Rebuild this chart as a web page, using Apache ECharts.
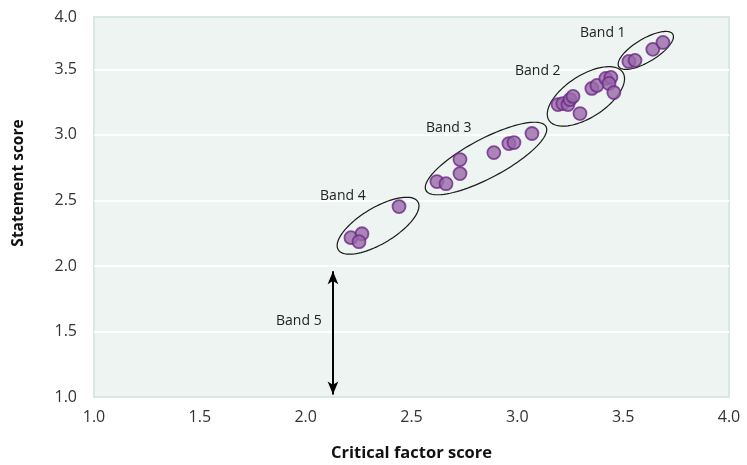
<!DOCTYPE html>
<html><head><meta charset="utf-8">
<script src="https://cdn.jsdelivr.net/npm/echarts@6/dist/echarts.min.js"></script>
<style>html,body{margin:0;padding:0;background:#fff}#c{width:747px;height:465px}</style>
</head><body><div id="c"></div>
<script>
// ---- data ----
const band1X = [3.527, 3.556, 3.640, 3.688];
const band1Y = [3.561, 3.569, 3.653, 3.706];
const band2X = [3.192, 3.215, 3.239, 3.249, 3.263, 3.296, 3.352, 3.376, 3.418, 3.442, 3.433, 3.456];
const band2Y = [3.232, 3.239, 3.232, 3.270, 3.294, 3.163, 3.355, 3.378, 3.431, 3.439, 3.393, 3.324];
const band3X = [2.620, 2.663, 2.729, 2.729, 2.889, 2.960, 2.984, 3.069];
const band3Y = [2.644, 2.628, 2.812, 2.705, 2.865, 2.934, 2.942, 3.011];
const band4X = [2.214, 2.266, 2.252, 2.441];
const band4Y = [2.216, 2.246, 2.185, 2.453];
const bandNames = ['Band 1', 'Band 2', 'Band 3', 'Band 4', 'Band 5'];
const ellipseCX = [3.607, 3.324, 2.852, 2.342];
const ellipseCY = [3.645, 3.294, 2.820, 2.307];
const labelX = [3.296, 2.989, 2.568, 2.068, 1.860];
const labelY = [3.775, 3.485, 3.049, 2.537, 1.581];
const band5X = 2.129, band5Top = 1.96, band5Bottom = 1.02;
const xName = 'Critical factor score';
const yName = 'Statement score';
const yTopLabel = '4.0';

// ---- styles ----
const ellipseShapes = [
  {a: 31.5, b: 11.5, rot: 31},
  {a: 44, b: 21, rot: 33},
  {a: 68, b: 19.5, rot: 28},
  {a: 46.5, b: 18, rot: 31}
];
const FONT = 'Open Sans';

function zip(xs, ys) { return xs.map((x, i) => [x, ys[i]]); }
const pointStyle = {color: '#9a69aa', borderColor: '#6b2b84', borderWidth: 1.8};
function bandSeries(name, xs, ys) {
  return {name, type: 'scatter', data: zip(xs, ys), symbolSize: 13, itemStyle: pointStyle, z: 3};
}

const chart = echarts.init(document.getElementById('c'), null, {renderer: 'canvas'});
chart.setOption({
  animation: false,
  grid: {left: 94, right: 18, top: 17, bottom: 68, show: true, outerBoundsMode: 'none',
         containLabel: false,
         backgroundColor: '#edf4f1', borderColor: '#d8e8e2', borderWidth: 2},
  xAxis: {
    type: 'value', min: 1, max: 4, interval: 0.5,
    axisLine: {show: false}, axisTick: {show: false}, splitLine: {show: false},
    axisLabel: {color: '#333', fontSize: 16, fontFamily: FONT, margin: 12,
                formatter: v => v.toFixed(1)},
    name: xName, nameLocation: 'middle', nameGap: 48,
    nameTextStyle: {fontWeight: 'bold', fontSize: 16.5, color: '#111', fontFamily: FONT}
  },
  yAxis: {
    type: 'value', min: 1, max: 3.9, interval: 0.5,
    axisLine: {show: false}, axisTick: {show: false},
    splitLine: {show: true, showMinLine: false, showMaxLine: false,
                lineStyle: {color: '#ffffff', width: 2}},
    axisLabel: {color: '#333', fontSize: 16, fontFamily: FONT, margin: 17,
                showMaxLabel: true,
                formatter: v => (v > 3.85 ? yTopLabel : v.toFixed(1))},
    name: yName, nameLocation: 'middle', nameGap: 67,
    nameTextStyle: {fontWeight: 'bold', fontSize: 15.5, color: '#111', fontFamily: FONT,
                    padding: [0, 0, 0, 48]}
  },
  series: [
    {
      type: 'custom', name: 'ellipses', z: 2, silent: true,
      data: zip(ellipseCX, ellipseCY),
      renderItem(params, api) {
        const c = api.coord([api.value(0), api.value(1)]);
        const s = ellipseShapes[params.dataIndex];
        const th = s.rot * Math.PI / 180;
        const pts = [];
        for (let i = 0; i < 96; i++) {
          const t = i / 96 * 2 * Math.PI;
          const ex = s.a * Math.cos(t), ey = s.b * Math.sin(t);
          pts.push([c[0] + ex * Math.cos(th) - ey * Math.sin(th),
                    c[1] - (ex * Math.sin(th) + ey * Math.cos(th))]);
        }
        return {type: 'polygon', shape: {points: pts},
                style: {fill: 'none', stroke: '#1a1a1a', lineWidth: 1.2}};
      }
    },
    bandSeries('Band 1', band1X, band1Y),
    bandSeries('Band 2', band2X, band2Y),
    bandSeries('Band 3', band3X, band3Y),
    bandSeries('Band 4', band4X, band4Y),
    {
      type: 'custom', name: 'labels', z: 4, silent: true,
      data: zip(labelX, labelY),
      renderItem(params, api) {
        const c = api.coord([api.value(0), api.value(1)]);
        return {type: 'text', x: c[0], y: c[1],
                style: {text: bandNames[params.dataIndex], fill: '#222', fontSize: 14,
                        fontFamily: FONT, align: 'left', verticalAlign: 'middle'}};
      }
    },
    {
      type: 'line', name: 'Band 5', data: [], silent: true,
      markLine: {
        silent: true, symbol: ['arrow', 'arrow'], symbolSize: [8, 13],
        lineStyle: {color: '#000', width: 2, type: 'solid'},
        label: {show: false},
        data: [[{coord: [band5X, band5Top]}, {coord: [band5X, band5Bottom]}]]
      }
    }
  ]
});
</script>
</body></html>
